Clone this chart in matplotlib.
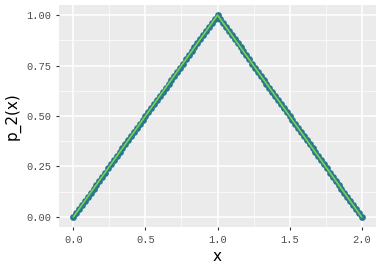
import matplotlib
matplotlib.use("Agg")
import matplotlib.pyplot as plt

x_vals = [0.00, 0.02, 0.04, 0.06, 0.08, 0.10, 0.12, 0.14, 0.16, 0.18,
          0.20, 0.22, 0.24, 0.26, 0.28, 0.30, 0.32, 0.34, 0.36, 0.38,
          0.40, 0.42, 0.44, 0.46, 0.48, 0.50, 0.52, 0.54, 0.56, 0.58,
          0.60, 0.62, 0.64, 0.66, 0.68, 0.70, 0.72, 0.74, 0.76, 0.78,
          0.80, 0.82, 0.84, 0.86, 0.88, 0.90, 0.92, 0.94, 0.96, 0.98,
          1.00, 1.02, 1.04, 1.06, 1.08, 1.10, 1.12, 1.14, 1.16, 1.18,
          1.20, 1.22, 1.24, 1.26, 1.28, 1.30, 1.32, 1.34, 1.36, 1.38,
          1.40, 1.42, 1.44, 1.46, 1.48, 1.50, 1.52, 1.54, 1.56, 1.58,
          1.60, 1.62, 1.64, 1.66, 1.68, 1.70, 1.72, 1.74, 1.76, 1.78,
          1.80, 1.82, 1.84, 1.86, 1.88, 1.90, 1.92, 1.94, 1.96, 1.98,
          2.00]
p2_vals = [0.00, 0.02, 0.04, 0.06, 0.08, 0.10, 0.12, 0.14, 0.16, 0.18,
           0.20, 0.22, 0.24, 0.26, 0.28, 0.30, 0.32, 0.34, 0.36, 0.38,
           0.40, 0.42, 0.44, 0.46, 0.48, 0.50, 0.52, 0.54, 0.56, 0.58,
           0.60, 0.62, 0.64, 0.66, 0.68, 0.70, 0.72, 0.74, 0.76, 0.78,
           0.80, 0.82, 0.84, 0.86, 0.88, 0.90, 0.92, 0.94, 0.96, 0.98,
           1.00, 0.98, 0.96, 0.94, 0.92, 0.90, 0.88, 0.86, 0.84, 0.82,
           0.80, 0.78, 0.76, 0.74, 0.72, 0.70, 0.68, 0.66, 0.64, 0.62,
           0.60, 0.58, 0.56, 0.54, 0.52, 0.50, 0.48, 0.46, 0.44, 0.42,
           0.40, 0.38, 0.36, 0.34, 0.32, 0.30, 0.28, 0.26, 0.24, 0.22,
           0.20, 0.18, 0.16, 0.14, 0.12, 0.10, 0.08, 0.06, 0.04, 0.02,
           0.00]

x_ticks = [0.0, 0.5, 1.0, 1.5, 2.0]
y_ticks = [0.00, 0.25, 0.50, 0.75, 1.00]

fig = plt.figure(figsize=(3.84, 2.68), dpi=100)
ax = fig.add_axes([59 / 384, 1 - 227 / 268, (376 - 59) / 384, (227 - 5) / 268])
ax.set_facecolor("#ebebeb")

# points then line on top
ax.scatter(x_vals, p2_vals, s=24, color="#2a788e", zorder=3, linewidths=0)
ax.plot(x_vals, p2_vals, color="#7ad151", lw=1.2, zorder=4)

ax.set_xlim(-0.1, 2.1)
ax.set_ylim(-0.05, 1.05)
ax.set_xticks(x_ticks)
ax.set_yticks(y_ticks)
ax.set_xticks([0.25, 0.75, 1.25, 1.75], minor=True)
ax.set_yticks([0.125, 0.375, 0.625, 0.875], minor=True)
ax.set_xticklabels(["0.0", "0.5", "1.0", "1.5", "2.0"])
ax.set_yticklabels(["0.00", "0.25", "0.50", "0.75", "1.00"])

ax.grid(which="major", color="white", lw=1.1)
ax.grid(which="minor", color="white", lw=0.5)
ax.set_axisbelow(True)
for s in ax.spines.values():
    s.set_visible(False)

ax.tick_params(which="major", length=2.5, width=0.8, color="#333333",
               labelsize=7.5, labelcolor="#4d4d4d", pad=3)
ax.tick_params(which="minor", length=0)
for lab in ax.get_xticklabels() + ax.get_yticklabels():
    lab.set_family("Liberation Mono")

ax.set_xlabel("x", fontsize=11, labelpad=3)
ax.set_ylabel("p_2(x)", fontsize=11, labelpad=4)

fig.savefig("out.png", dpi=100)
